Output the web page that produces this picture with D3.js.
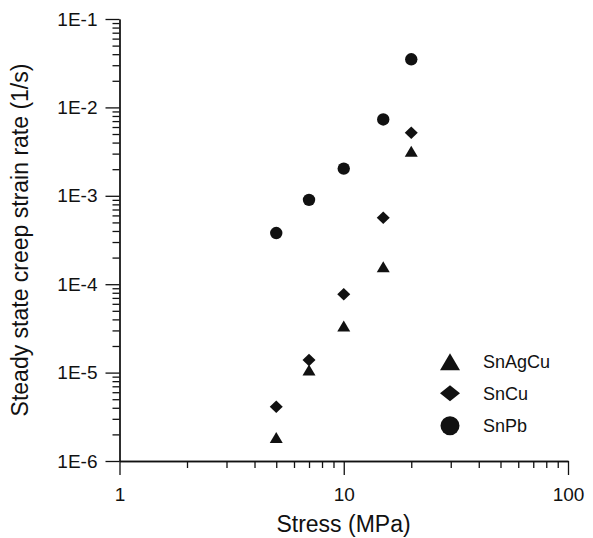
<!DOCTYPE html>
<html>
<head>
<meta charset="utf-8">
<script src="https://cdn.jsdelivr.net/npm/d3@7"></script>
<style>
  html, body { margin: 0; padding: 0; background: #fff; }
  svg { display: block; }
  text { font-family: "Liberation Sans", Arial, Helvetica, sans-serif; fill: #111; }
</style>
</head>
<body>
<svg id="chart" width="593" height="538"></svg>
<script>
// ---- data ----
const stress = [5, 7, 10, 15, 20];
const snAgCu = [1.84e-6, 1.07e-5, 3.37e-5, 1.58e-4, 3.19e-3];
const snCu   = [4.11e-6, 1.39e-5, 7.69e-5, 5.65e-4, 5.17e-3];
const snPb   = [3.79e-4, 9.0e-4, 2.03e-3, 7.3e-3, 3.5e-2];
const seriesNames = ["SnAgCu", "SnCu", "SnPb"];
const xTickValues = [1, 10, 100];
const xTickLabels = ["1", "10", "100"];
const yTickValues = [1e-6, 1e-5, 1e-4, 1e-3, 1e-2, 1e-1];
const yTickLabels = ["1E-6", "1E-5", "1E-4", "1E-3", "1E-2", "1E-1"];
const xTitle = "Stress (MPa)";
const yTitle = "Steady state creep strain rate (1/s)";

// ---- layout ----
const svg = d3.select("#chart");
const ink = "#111";
const x = d3.scaleLog().domain([1, 100]).range([119.5, 568]);
const y = d3.scaleLog().domain([1e-6, 1e-1]).range([461, 19]);

// minor ticks
const xMinor = [];
for (let d = 1; d < 100; d *= 10) for (let k = 2; k <= 9; k++) xMinor.push(d * k);
const yMinor = [];
for (let d = 1e-6; d < 1e-1 * 0.999; d *= 10) for (let k = 2; k <= 9; k++) yMinor.push(d * k);

function styleAxis(g) {
  g.selectAll("path.domain").attr("stroke", ink).attr("stroke-width", 1.3);
  g.selectAll(".tick line").attr("stroke", ink).attr("stroke-width", 1.3);
  g.selectAll(".tick text").style("font-size", "19px").attr("fill", ink);
}

// x axis
const gx = svg.append("g").attr("transform", `translate(0,${y(1e-6)})`)
  .call(d3.axisBottom(x).tickValues(xTickValues)
    .tickFormat((d, i) => xTickLabels[i]).tickSize(14).tickSizeOuter(0).tickPadding(13));
styleAxis(gx);
const gxm = svg.append("g").attr("transform", `translate(0,${y(1e-6)})`)
  .call(d3.axisBottom(x).tickValues(xMinor).tickFormat("").tickSize(7).tickSizeOuter(0));
styleAxis(gxm);

// y axis
const gy = svg.append("g").attr("transform", `translate(${x(1)},0)`)
  .call(d3.axisLeft(y).tickValues(yTickValues)
    .tickFormat((d, i) => yTickLabels[i]).tickSize(14).tickSizeOuter(0).tickPadding(8));
styleAxis(gy);
const gym = svg.append("g").attr("transform", `translate(${x(1)},0)`)
  .call(d3.axisLeft(y).tickValues(yMinor).tickFormat("").tickSize(7).tickSizeOuter(0));
styleAxis(gym);

// axis titles
svg.append("text").attr("x", 343.5).attr("y", 532).attr("text-anchor", "middle")
  .style("font-size", "23px").text(xTitle);
svg.append("text").attr("transform", "translate(28,240) rotate(-90)").attr("text-anchor", "middle")
  .style("font-size", "23px").text(yTitle);

// ---- symbols ----
function triPath(w, h) { return `M0,${-h/2}L${w/2},${h/2}L${-w/2},${h/2}Z`; }
function diaPath(w, h) { return `M0,${-h/2}L${w/2},0L0,${h/2}L${-w/2},0Z`; }
function circPath(r) { return `M${r},0A${r},${r} 0 1,1 ${-r},0A${r},${r} 0 1,1 ${r},0Z`; }

const shapes = [
  { name: seriesNames[0], vals: snAgCu, path: triPath(13, 11), legend: triPath(20, 17) },
  { name: seriesNames[1], vals: snCu,   path: diaPath(13, 12.5), legend: diaPath(20, 16) },
  { name: seriesNames[2], vals: snPb,   path: circPath(6.2), legend: circPath(9.5) }
];

shapes.forEach(s => {
  svg.append("g").selectAll("path").data(stress.map((d, i) => [d, s.vals[i]]))
    .join("path")
    .attr("transform", d => `translate(${x(d[0])},${y(d[1])})`)
    .attr("d", s.path).attr("fill", ink);
});

// legend
const legendY = [361.7, 393.3, 425.7];
const lg = svg.append("g");
shapes.forEach((s, i) => {
  lg.append("path").attr("transform", `translate(450,${legendY[i]})`).attr("d", s.legend).attr("fill", ink);
  lg.append("text").attr("x", 483).attr("y", legendY[i]).attr("dy", "0.35em")
    .style("font-size", "18px").text(s.name);
});
</script>
</body>
</html>
